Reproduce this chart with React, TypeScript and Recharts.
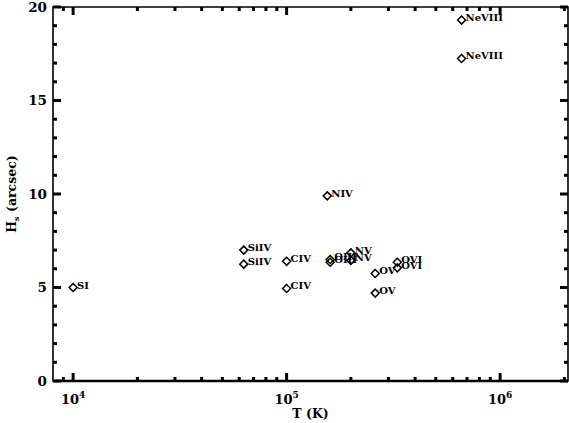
import React from "react";
import {
  ReferenceArea,
  ReferenceLine,
  Scatter,
  ScatterChart,
  XAxis,
  YAxis,
} from "recharts";

// ion label, formation temperature (K), size H_s (arcsec)
const ions = [
  "SI",
  "SiIV",
  "SiIV",
  "CIV",
  "CIV",
  "NIV",
  "OIII",
  "OIII",
  "NV",
  "NV",
  "OV",
  "OV",
  "OVI",
  "OVI",
  "NeVIII",
  "NeVIII",
];
const temperatures = [
  1.0e4, 6.3e4, 6.3e4, 1.0e5, 1.0e5, 1.55e5, 1.6e5, 1.6e5, 2.0e5, 2.0e5,
  2.6e5, 2.6e5, 3.3e5, 3.3e5, 6.6e5, 6.6e5,
];
const sizes = [
  5.0, 7.0, 6.25, 6.4, 4.95, 9.9, 6.5, 6.35, 6.85, 6.45, 5.75, 4.7, 6.35,
  6.05, 19.3, 17.25,
];

const xTicks = [
  9e3, 1e4, 2e4, 3e4, 4e4, 5e4, 6e4, 7e4, 8e4, 9e4, 1e5, 2e5, 3e5, 4e5, 5e5,
  6e5, 7e5, 8e5, 9e5, 1e6, 2e6,
];
const xMajor = [1e4, 1e5, 1e6];
const yTicks = [
  0, 1, 2, 3, 4, 5, 6, 7, 8, 9, 10, 11, 12, 13, 14, 15, 16, 17, 18, 19, 20,
];
const yMajor = [0, 5, 10, 15, 20];

const X_DOMAIN = [8050, 2080000];
const Y_DOMAIN = [0, 20];

const points = ions.map((ion, i) => ({
  ion,
  t: temperatures[i],
  h: sizes[i],
}));

// tick marks on all four sides of the frame, placed through the chart scales
const bottomTicks = xTicks.map((t) => ({ t, h: Y_DOMAIN[0], major: xMajor.includes(t) }));
const topTicks = xTicks.map((t) => ({ t, h: Y_DOMAIN[1], major: xMajor.includes(t) }));
const leftTicks = yTicks.map((h) => ({ t: X_DOMAIN[0], h, major: yMajor.includes(h) }));
const rightTicks = yTicks.map((h) => ({ t: X_DOMAIN[1], h, major: yMajor.includes(h) }));

const FONT = "'DejaVu Serif', 'Liberation Serif', serif";
const INK = "#000";
const MAJOR_LEN = 8;
const MINOR_LEN = 4;
const TICK_W = 3;

const tickLen = (p: any) => (p.major ? MAJOR_LEN : MINOR_LEN);

const UpTick = ({ cx, cy, payload }: any) => (
  <line x1={cx} x2={cx} y1={cy} y2={cy - tickLen(payload)} stroke={INK} strokeWidth={TICK_W} />
);
const DownTick = ({ cx, cy, payload }: any) => (
  <line x1={cx} x2={cx} y1={cy} y2={cy + tickLen(payload)} stroke={INK} strokeWidth={TICK_W} />
);
const RightwardTick = ({ cx, cy, payload }: any) => (
  <line x1={cx} x2={cx + tickLen(payload)} y1={cy} y2={cy} stroke={INK} strokeWidth={TICK_W} />
);
const LeftwardTick = ({ cx, cy, payload }: any) => (
  <line x1={cx} x2={cx - tickLen(payload)} y1={cy} y2={cy} stroke={INK} strokeWidth={TICK_W} />
);

const BottomLabel = ({ x, y, payload }: any) => {
  const v = payload.value;
  if (!xMajor.includes(v)) return <g />;
  return (
    <text
      x={x}
      y={y + 23}
      textAnchor="middle"
      fontFamily={FONT}
      fontWeight="bold"
      fontSize={13}
      fill={INK}
    >
      10
      <tspan fontSize={9} dy={-6}>
        {Math.round(Math.log10(v))}
      </tspan>
    </text>
  );
};

const LeftLabel = ({ x, y, payload }: any) => {
  const v = payload.value;
  if (!yMajor.includes(v)) return <g />;
  return (
    <text
      x={x - 6}
      y={y + 4.5}
      textAnchor="end"
      fontFamily={FONT}
      fontWeight="bold"
      fontSize={13.5}
      fill={INK}
    >
      {v}
    </text>
  );
};

const XTitle = ({ viewBox }: any) => (
  <text
    x={viewBox.x + viewBox.width / 2}
    y={viewBox.y + 37}
    textAnchor="middle"
    fontFamily={FONT}
    fontWeight="bold"
    fontSize={12.5}
    fill={INK}
  >
    T (K)
  </text>
);

const YTitle = ({ viewBox }: any) => {
  const cx = viewBox.x + 16;
  const cy = viewBox.y + viewBox.height / 2;
  return (
    <text
      x={cx}
      y={cy}
      transform={`rotate(-90, ${cx}, ${cy})`}
      textAnchor="middle"
      fontFamily={FONT}
      fontWeight="bold"
      fontSize={12.5}
      fill={INK}
    >
      H
      <tspan fontSize={8} dy={3}>
        s
      </tspan>
      <tspan dy={-3}> (arcsec)</tspan>
    </text>
  );
};

// open diamond with the ion name just to its upper right
const IonMarker = ({ cx, cy, payload }: any) => (
  <g>
    <polygon
      points={`${cx},${cy - 4} ${cx + 4},${cy} ${cx},${cy + 4} ${cx - 4},${cy}`}
      fill="none"
      stroke={INK}
      strokeWidth={1.5}
    />
    <text
      x={cx + 4}
      y={cy + 1}
      fontFamily={FONT}
      fontWeight="bold"
      fontSize={10}
      fill={INK}
    >
      {payload.ion}
    </text>
  </g>
);

export default function App() {
  return (
    <div style={{ position: "absolute", left: 0, top: 0, background: "#fff" }}>
      <ScatterChart
        width={569}
        height={423}
        margin={{ top: 7, right: 1, bottom: 0, left: 0 }}
      >
        <XAxis
          dataKey="t"
          type="number"
          scale="log"
          domain={X_DOMAIN}
          ticks={xTicks}
          interval={0}
          tickSize={0}
          tickMargin={0}
          tickLine={false}
          height={42}
          axisLine={false}
          tick={<BottomLabel />}
          label={XTitle}
        />
        <YAxis
          dataKey="h"
          type="number"
          domain={Y_DOMAIN}
          ticks={yTicks}
          interval={0}
          tickSize={0}
          tickMargin={0}
          tickLine={false}
          width={53}
          axisLine={false}
          tick={<LeftLabel />}
          label={YTitle}
        />
        {/* plot frame, heavier along the bottom */}
        <ReferenceArea
          x1={X_DOMAIN[0]}
          x2={X_DOMAIN[1]}
          y1={Y_DOMAIN[0]}
          y2={Y_DOMAIN[1]}
          fill="none"
          fillOpacity={0}
          stroke={INK}
          strokeWidth={1.6}
          ifOverflow="visible"
        />
        <ReferenceLine y={Y_DOMAIN[0]} stroke={INK} strokeWidth={2.4} ifOverflow="visible" />
        <Scatter data={bottomTicks} shape={UpTick} isAnimationActive={false} />
        <Scatter data={topTicks} shape={DownTick} isAnimationActive={false} />
        <Scatter data={leftTicks} shape={RightwardTick} isAnimationActive={false} />
        <Scatter data={rightTicks} shape={LeftwardTick} isAnimationActive={false} />
        <Scatter data={points} shape={IonMarker} isAnimationActive={false} />
      </ScatterChart>
    </div>
  );
}
